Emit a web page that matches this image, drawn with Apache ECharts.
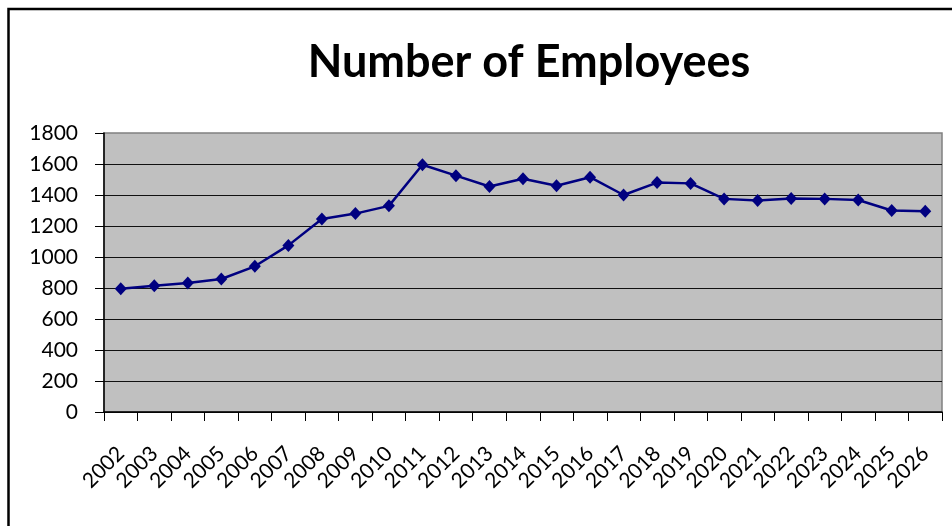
<!DOCTYPE html>
<html>
<head>
<meta charset="utf-8">
<title>Number of Employees</title>
<script src="https://cdn.jsdelivr.net/npm/echarts@6/dist/echarts.min.js"></script>
<style>
  html, body { margin: 0; padding: 0; background: #fff; }
  #chart { width: 952px; height: 526px; }
</style>
</head>
<body>
<div id="chart"></div>
<script>
// Years on the category axis
const years = ['2002','2003','2004','2005','2006','2007','2008','2009','2010','2011','2012','2013',
               '2014','2015','2016','2017','2018','2019','2020','2021','2022','2023','2024','2025','2026'];
// Head count per year
const employees = [795, 815, 832, 858, 940, 1075, 1245, 1280, 1330, 1595, 1525, 1455,
                   1505, 1460, 1515, 1400, 1480, 1475, 1375, 1365, 1378, 1375, 1368, 1300, 1295];
// Value axis range
const yMin = 0, yMax = 1800, yStep = 200;

const FONT = 'Lato';
const chart = echarts.init(document.getElementById('chart'), null, { renderer: 'canvas' });

chart.setOption({
  animation: false,
  backgroundColor: '#ffffff',
  graphic: [
    { // outer frame of the chart object
      type: 'rect', silent: true, z: 100,
      shape: { x: 8.5, y: 9, width: 1000, height: 600 },
      style: { fill: 'none', stroke: '#000', lineWidth: 2.5 }
    },
    {
      type: 'text', z: 100, x: 529, y: 62,
      style: {
        text: 'Number of Employees', fontFamily: FONT, fontWeight: 'bold', fontSize: 45,
        fill: '#000', textAlign: 'center', textVerticalAlign: 'middle'
      }
    }
  ],
  grid: {
    left: 104, top: 133, right: 10, bottom: 114,
    show: true, backgroundColor: '#c0c0c0', borderColor: '#808080', borderWidth: 1.5
  },
  xAxis: {
    type: 'category', data: years, boundaryGap: true,
    axisLine: { lineStyle: { color: '#000', width: 1.5 } },
    axisTick: { show: true, length: 9, lineStyle: { color: '#000', width: 1 } },
    axisLabel: { rotate: 45, margin: 38, fontFamily: FONT, fontSize: 21, color: '#000', interval: 0 }
  },
  yAxis: {
    type: 'value', min: yMin, max: yMax, interval: yStep,
    axisLine: { show: true, lineStyle: { color: '#000', width: 1.5 } },
    axisTick: { show: true, length: 9, lineStyle: { color: '#000', width: 1 } },
    axisLabel: {
      margin: 26, fontFamily: FONT, fontSize: 21, color: '#000',
      formatter: v => String(v)
    },
    splitLine: { show: true, showMaxLine: false, lineStyle: { color: '#111', width: 1.2 } }
  },
  series: [{
    type: 'line', data: employees,
    lineStyle: { color: '#000080', width: 2.5 },
    itemStyle: { color: '#000080' },
    symbol: 'diamond', symbolSize: [12, 13], showSymbol: true
  }]
});
</script>
</body>
</html>
